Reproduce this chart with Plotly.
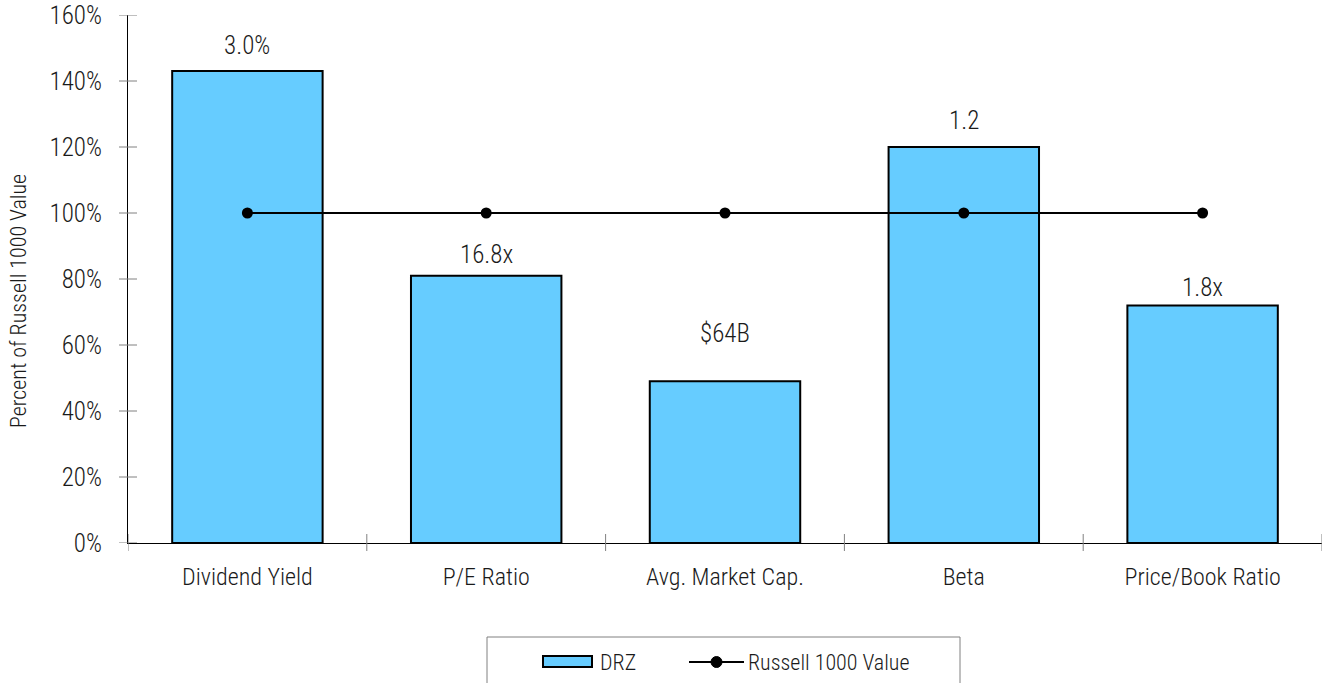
import plotly.graph_objects as go

categories = ["Dividend Yield", "P/E Ratio", "Avg. Market Cap.", "Beta", "Price/Book Ratio"]
drz_values = [143, 81, 49, 120, 72]
benchmark_values = [100, 100, 100, 100, 100]
bar_labels = ["3.0%", "16.8x", "$64B", "1.2", "1.8x"]
y_tick_values = [0, 20, 40, 60, 80, 100, 120, 140, 160]
y_tick_text = ["0%", "20%", "40%", "60%", "80%", "100%", "120%", "140%", "160%"]
series_names = ["DRZ", "Russell 1000 Value"]
y_title = "Percent of Russell 1000 Value"

# styles
label_shift = [26, 21, 48, 27, 18]
FONT = "Roboto Condensed, Liberation Sans Narrow, Arial Narrow, sans-serif"
TXT = "#1a1a1a"
WEIGHT = 300
BAR_COLOR = "#66CCFF"
W, H = 1329, 683
ML, MR, MT, MB = 128, 7, 15, 140
PW, PH = W - ML - MR, H - MT - MB


def px(x):
    return (x - ML) / PW


def py(y):
    return (H - MB - y) / PH


def fnt(size):
    return dict(family=FONT, size=size, color=TXT, weight=WEIGHT)


fig = go.Figure()
fig.add_trace(go.Bar(
    x=categories, y=drz_values, name=series_names[0], width=0.63,
    marker=dict(color=BAR_COLOR, line=dict(color="black", width=2)),
    showlegend=False,
))
fig.add_trace(go.Scatter(
    x=categories, y=benchmark_values, name=series_names[1], mode="lines+markers",
    line=dict(color="black", width=2), marker=dict(color="black", size=11),
    showlegend=False,
))

for c, v, t, s in zip(categories, drz_values, bar_labels, label_shift):
    fig.add_annotation(x=c, y=v, text=t, showarrow=False, yanchor="middle",
                       yshift=s, font=fnt(25))

shapes = []
# crossing y ticks
for v in y_tick_values:
    shapes.append(dict(type="line", xref="x domain", yref="y", xsizemode="pixel",
                       xanchor=0, x0=-9, x1=9, y0=v, y1=v,
                       line=dict(color="#808080", width=1)))
# crossing x ticks at category boundaries
for i in range(len(categories) + 1):
    b = i - 0.5
    shapes.append(dict(type="line", xref="x", yref="y domain", ysizemode="pixel",
                       yanchor=0, y0=-8, y1=9, x0=b, x1=b,
                       line=dict(color="#808080", width=1)))

# legend (drawn manually)
shapes.append(dict(type="rect", xref="paper", yref="paper",
                   x0=px(487), x1=px(960), y0=py(637), y1=py(700),
                   line=dict(color="#808080", width=1), fillcolor="white", layer="below"))
shapes.append(dict(type="rect", xref="paper", yref="paper",
                   x0=px(543), x1=px(592), y0=py(656), y1=py(667),
                   line=dict(color="black", width=2), fillcolor=BAR_COLOR))
shapes.append(dict(type="line", xref="paper", yref="paper",
                   x0=px(689), x1=px(744), y0=py(662), y1=py(662),
                   line=dict(color="black", width=2)))
shapes.append(dict(type="circle", xref="paper", yref="paper",
                   x0=px(711), x1=px(722), y0=py(656.5), y1=py(667.5),
                   line=dict(color="black", width=1), fillcolor="black"))
fig.add_annotation(xref="paper", yref="paper", x=px(598), y=py(662), text=series_names[0],
                   showarrow=False, xanchor="left", yanchor="middle", font=fnt(22))
fig.add_annotation(xref="paper", yref="paper", x=px(746), y=py(662), text=series_names[1],
                   showarrow=False, xanchor="left", yanchor="middle", font=fnt(22))
# y-axis title
fig.add_annotation(xref="paper", yref="paper", x=px(18), y=py(301), text=y_title,
                   showarrow=False, xanchor="center", yanchor="middle", textangle=-90,
                   font=fnt(22))

fig.update_layout(
    width=W, height=H,
    margin=dict(l=ML, r=MR, t=MT, b=MB, pad=0),
    paper_bgcolor="white", plot_bgcolor="white",
    font=fnt(25),
    shapes=shapes,
    showlegend=False,
    bargap=0.37,
)
fig.update_xaxes(
    type="category", range=[-0.5, 4.5], showline=True, linecolor="black", linewidth=1,
    ticks="", showgrid=False, zeroline=False, ticklabelstandoff=12, automargin=False,
    tickfont=fnt(24),
)
fig.update_yaxes(
    range=[0, 160], tickvals=y_tick_values, ticktext=y_tick_text,
    showline=True, linecolor="black", linewidth=1, ticks="", showgrid=False,
    zeroline=False, ticklabelstandoff=20, automargin=False,
    tickfont=fnt(25),
)

fig.write_html("out.html")
